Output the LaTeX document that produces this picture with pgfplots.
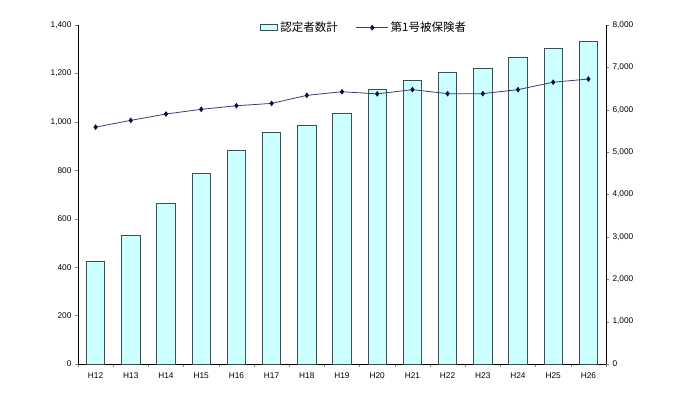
\documentclass[border=0pt]{standalone}
\usepackage{pgfplots}
\pgfplotsset{compat=1.18}
\usepackage{fontspec}
\setmainfont{Liberation Sans}
\newfontfamily\jp{Noto Sans CJK JP}
\definecolor{barfill}{RGB}{204,255,255}
\definecolor{baredge}{RGB}{60,80,80}
\definecolor{linecol}{RGB}{60,60,120}
\definecolor{markcol}{RGB}{10,10,80}
\pgfplotsset{mylegline/.style={legend image code/.code={%
  \draw[mark repeat=2,mark phase=2,##1] plot coordinates {(0pt,0pt) (16pt,0pt) (32pt,0pt)};}}}
\begin{document}
\begin{tikzpicture}
\path (0pt,0pt) rectangle (680pt,392pt);
\begin{axis}[
  at={(78pt,28pt)}, anchor=south west,
  scale only axis, width=528pt, height=339pt,
  xmin=-0.5, xmax=14.5, ymin=0, ymax=1400,
  axis x line*=bottom, axis y line*=left,
  axis line style={line width=0.8pt},
  ytick={0,200,...,1400},
  ytick align=outside,
  xtick={0,...,14},
  xticklabels={H12,H13,H14,H15,H16,H17,H18,H19,H20,H21,H22,H23,H24,H25,H26},
  major x tick style={draw=none},
  minor xtick={-0.5,0.5,...,14.5},
  minor x tick style={line width=0.6pt},
  xtick align=inside,
  minor tick length=3pt, major tick length=3pt,
  ybar, bar width=0.52,
  tick label style={font=\fontsize{8.3}{9}\selectfont},
  xticklabel style={yshift=-2pt},
  /pgf/number format/.cd, 1000 sep={,}, assume math mode=true
]
\addplot[fill=barfill, draw=baredge, line width=0.9pt] coordinates {
(0,425) (1,529) (2,661) (3,785) (4,883) (5,957) (6,986) (7,1033)
(8,1132) (9,1169) (10,1205) (11,1221) (12,1267) (13,1302) (14,1331)};
\end{axis}
\begin{axis}[
  at={(78pt,28pt)}, anchor=south west,
  scale only axis, width=528pt, height=339pt,
  xmin=-0.5, xmax=14.5, ymin=0, ymax=8000,
  axis x line=none, axis y line*=right,
  axis line style={line width=0.8pt},
  ytick={0,1000,...,8000},
  ytick align=outside, major tick length=3pt,
  tick label style={font=\fontsize{8.3}{9}\selectfont},
  /pgf/number format/.cd, 1000 sep={,}, assume math mode=true,
  /pgfplots/.cd,
  legend columns=2,
  legend style={draw=none, fill=none, at={(0.542,0.992)}, anchor=center,
    font=\jp\fontsize{11.5}{13}\selectfont,
    /tikz/every even column/.append style={column sep=16pt}},
]
\addlegendimage{area legend, fill=barfill, draw=baredge, line width=0.9pt}
\addlegendentry{認定者数計}
\addplot[linecol, line width=0.8pt, mark=diamond*, mark size=2.2pt,
  mark options={fill=markcol, draw=markcol}, mylegline] coordinates {
(0,5590) (1,5750) (2,5900) (3,6010) (4,6095) (5,6150) (6,6340) (7,6425)
(8,6375) (9,6475) (10,6380) (11,6380) (12,6475) (13,6650) (14,6725)};
\addlegendentry{第1号被保険者}
\end{axis}
\end{tikzpicture}
\end{document}
